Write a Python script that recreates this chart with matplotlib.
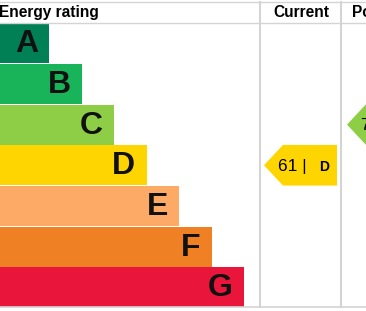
import matplotlib.pyplot as plt
from matplotlib.patches import Polygon

# EPC bands and colours
bands = ['A', 'B', 'C', 'D', 'E', 'F', 'G']
band_colors = ['#008054', '#19b459', '#8dce46', '#ffd500', '#fcaa65', '#ef8023', '#e9153b']
current_score, current_band = 61, 'D'
potential_score, potential_band = 76, 'C'
headers = ['Energy rating', 'Current', 'Potential']

W, H = 366, 311
fig = plt.figure(figsize=(W / 100, H / 100), dpi=100)
ax = fig.add_axes([0, 0, 1, 1])
ax.set_xlim(0, W)
ax.set_ylim(H, 0)
ax.axis('off')

grid = '#d4d4d4'
top, head_bot, bottom = 1.5, 22.5, 307
row_h = (bottom - head_bot) / len(bands)
col_cur, col_pot = 260, 341

# table lines
ax.plot([0, W], [top, top], color=grid, lw=1)
ax.plot([0, W], [head_bot, head_bot], color=grid, lw=1)
ax.plot([0, W], [bottom, bottom], color=grid, lw=1.2)
for x in (col_cur, col_pot):
    ax.plot([x, x], [top, bottom], color=grid, lw=1.5)

# headers
font = 'Liberation Sans'
ax.text(-1, 12.5, headers[0], fontsize=11.2, fontweight='bold', family=font, va='center', ha='left')
ax.text((col_cur + col_pot) / 2 + 1, 12.5, headers[1], fontsize=11.2, fontweight='bold', family=font, va='center', ha='center')
ax.text(352, 12.5, headers[2], fontsize=11.2, fontweight='bold', family=font, va='center', ha='left')

# band bars
for i, (b, c) in enumerate(zip(bands, band_colors)):
    y0 = head_bot + 0.5 + i * row_h
    length = 16.5 + 32.5 * (i + 1)
    ax.barh(y0 + row_h / 2, length + 2, height=row_h - 0.6, left=-2, color=c, edgecolor='none')
    ax.text(length - 11, y0 + row_h / 2 + 1, b, fontsize=23, fontweight='bold', family=font,
            ha='right', va='center', color='#111111')


def arrow(x_tip, x_end, band, score, letter):
    i = bands.index(band)
    y0 = head_bot + 0.5 + i * row_h
    y1 = y0 + row_h
    ym = (y0 + y1) / 2
    pts = [(x_tip, ym), (x_tip + 19, y0), (x_end, y0), (x_end, y1), (x_tip + 19, y1)]
    ax.add_patch(Polygon(pts, closed=True, color=band_colors[i], ec='none'))
    ax.text(x_tip + 14, ym + 1, f'{score} |', fontsize=12.5, family=font, ha='left', va='center')
    ax.text(x_tip + 55, ym + 1.5, letter, fontsize=10, fontweight='bold', family=font, ha='left', va='center')


arrow(264, 337, current_band, current_score, current_band)
arrow(347, 420, potential_band, potential_score, potential_band)

fig.savefig('out.png', dpi=100)
